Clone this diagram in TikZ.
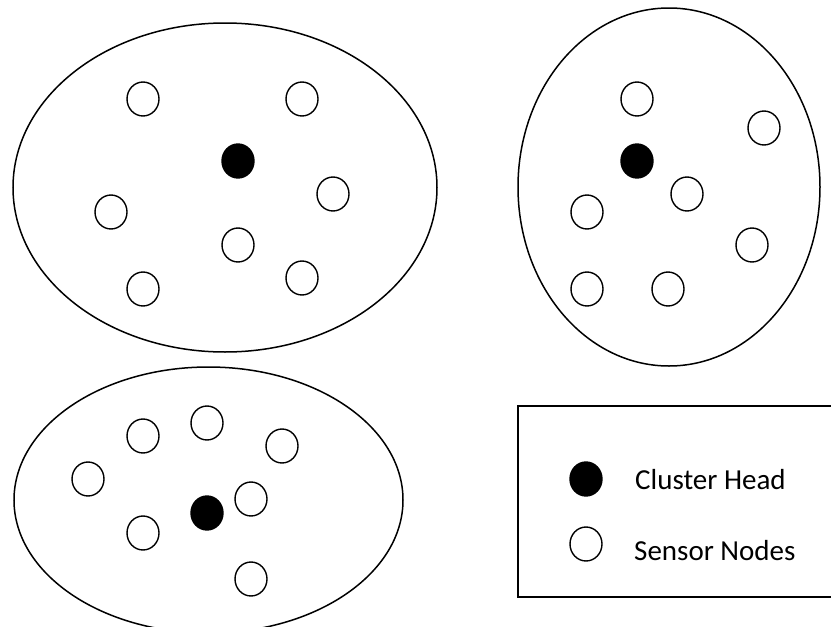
\documentclass[tikz,border=0pt]{standalone}
\usepackage{fontspec}
\setmainfont{Carlito}
\usetikzlibrary{shapes.geometric}
\begin{document}
\begin{tikzpicture}[x=1pt,y=-1pt,
  cluster/.style={draw, ellipse, line width=1.5pt, inner sep=0pt},
  sensor/.style={draw, ellipse, line width=1.4pt, inner sep=0pt, minimum width=32pt, minimum height=34pt},
  head/.style={sensor, fill=black},
  legendtext/.style={font=\fontsize{29}{33}\selectfont, anchor=base west, inner sep=0pt}]
\useasboundingbox (0,0) rectangle (831,627);
\clip (0,0) rectangle (831,627);

% top-left cluster
\node[cluster, minimum width=424pt, minimum height=329pt] (c1) at (225,187.5) {};
\node[sensor] (a1) at (143,99) {};
\node[sensor] (a2) at (302,99) {};
\node[head]   (ah) at (238,161) {};
\node[sensor] (a3) at (333,194) {};
\node[sensor] (a4) at (111,212) {};
\node[sensor] (a5) at (238,245) {};
\node[sensor] (a6) at (143,289) {};
\node[sensor] (a7) at (302,278) {};

% right cluster
\node[cluster, minimum width=302pt, minimum height=358pt] (c2) at (669,187) {};
\node[sensor] (b1) at (637,99) {};
\node[sensor] (b2) at (764,128) {};
\node[head]   (bh) at (637,161) {};
\node[sensor] (b3) at (687,194) {};
\node[sensor] (b4) at (587,212) {};
\node[sensor] (b5) at (752,245) {};
\node[sensor] (b6) at (587,289) {};
\node[sensor] (b7) at (668,289) {};

% bottom cluster
\node[cluster, minimum width=389pt, minimum height=266pt] (c3) at (208.5,500) {};
\node[sensor] (d1) at (143,436) {};
\node[sensor] (d2) at (207,423) {};
\node[sensor] (d3) at (282,446) {};
\node[sensor] (d4) at (88,479) {};
\node[sensor] (d5) at (251,499) {};
\node[head]   (dh) at (207,513) {};
\node[sensor] (d6) at (143,533) {};
\node[sensor] (d7) at (251,579) {};

% legend
\draw[line width=1.5pt] (518,406) rectangle (845,597);
\node[head]   (lh) at (586,479) {};
\node[sensor] (ls) at (586,544) {};
\node[legendtext] (th) at (635,489) {Cluster Head};
\node[legendtext] (ts) at (634,560) {Sensor Nodes};
\end{tikzpicture}
\end{document}
